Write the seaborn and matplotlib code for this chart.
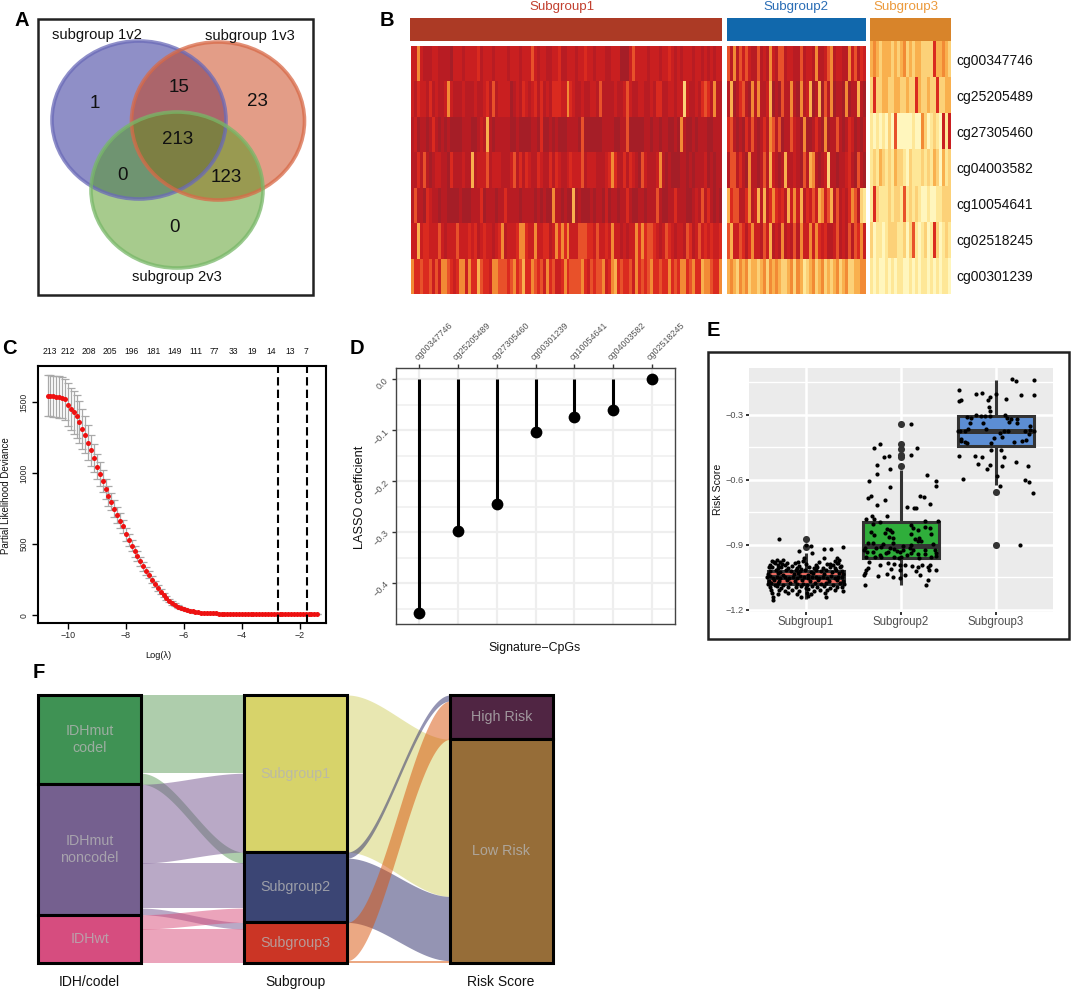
"""
plot.py

Six panel methylation signature figure: venn, heatmap, CV curve, LASSO lollipop,
risk score boxplot and an alluvial of the three groupings.
"""
import numpy as np
import pandas as pd
import matplotlib.pyplot as plt
import seaborn as sns
from matplotlib.patches import Ellipse, Rectangle

WIDTH, HEIGHT = 1072, 991

# ---- panel A
venn_names = ["subgroup 1v2", "subgroup 1v3", "subgroup 2v3"]
venn_counts = [1, 15, 23, 213, 0, 123, 0]

cpg_rows = ["cg00347746", "cg25205489", "cg27305460", "cg04003582",
            "cg10054641", "cg02518245", "cg00301239"]
heat_subgroup1 = [
    "7747888778" "8889777877" "7768777877" "7787778777" "5787788776" "8877787767"
    "7877788777" "9997577778" "7778776787" "8777877878" "7877",
    "7867786878" "8747888788" "8788768587" "7779878678" "7686878666" "7746788788"
    "7785888878" "8757887788" "7866887787" "7278878656" "8488",
    "8798898689" "8989999888" "9987838988" "8889989999" "8896998989" "9988889599"
    "9999888899" "8859999988" "9889889989" "4899898889" "9888",
    "8868589877" "8896888788" "3877758777" "8887586867" "8867886867" "8876777587"
    "7788876468" "8686789578" "8874898999" "8898988879" "8988",
    "8588967889" "8899998999" "8886988898" "8688889888" "8989899488" "9899398999"
    "8988979889" "8868998898" "8858998868" "8899878586" "8989",
    "7737667775" "7877757776" "7687677876" "4877764467" "7477668746" "4647775556"
    "6757767477" "8787746465" "5678756787" "7856875767" "6776",
    "4665665757" "4456764474" "6635667445" "5565465366" "4565746577" "6465555467"
    "5655476436" "5665746565" "4665664656" "4465466344" "5664",
]
heat_subgroup2 = [
    "5848575788" "5878478558" "7788587784" "8875487788" "475867",
    "8398658948" "4887398958" "8489487398" "3958498894" "988389",
    "6589896858" "9868458598" "8578949986" "8949885898" "679898",
    "8558689488" "9858378983" "8878958348" "9872889887" "689589",
    "3655886487" "3838646768" "3747386757" "3475385878" "645821",
    "5377568647" "7857387848" "7858477474" "6768875878" "585647",
    "3432434233" "2342434322" "3424312342" "3423234234" "223344",
]
heat_subgroup3 = [
    "3432333232" "3423233222" "2633432",
    "2622332233" "2232263223" "2262233",
    "1010102050" "0000100420" "1210717",
    "1213212132" "2102111212" "1320312",
    "1621112122" "1512121001" "0011222",
    "2011012221" "1202510120" "1620121",
    "1010010101" "1001010110" "1010110",
]
heat_colors = ["#fff6bd", "#fee797", "#fcd077", "#f9b04e", "#f28a35",
               "#e8512a", "#da2a1f", "#c91f20", "#b81c23", "#a51e27"]

# ---- panel C
log_lambda = [-10.7, -10.6, -10.5, -10.4, -10.3, -10.2, -10.1, -10.0, -9.9, -9.8, -9.7, -9.6,
              -9.5, -9.4, -9.3, -9.2, -9.1, -9.0, -8.9, -8.8, -8.7, -8.6, -8.5, -8.4, -8.3,
              -8.2, -8.1, -8.0, -7.9, -7.8, -7.7, -7.6, -7.5, -7.4, -7.3, -7.2, -7.1, -7.0,
              -6.9, -6.8, -6.7, -6.6, -6.5, -6.4, -6.3, -6.2, -6.1, -6.0, -5.9, -5.8, -5.7,
              -5.6, -5.5, -5.4, -5.3, -5.2, -5.1, -5.0, -4.9, -4.8, -4.7, -4.6, -4.5, -4.4,
              -4.3, -4.2, -4.1, -4.0, -3.9, -3.8, -3.7, -3.6, -3.5, -3.4, -3.3, -3.2, -3.1,
              -3.0, -2.9, -2.8, -2.7, -2.6, -2.5, -2.4, -2.3, -2.2, -2.1, -2.0, -1.9, -1.8,
              -1.7, -1.6, -1.5, -1.4]
deviance = [1545, 1543, 1541, 1538, 1535, 1530, 1520, 1480, 1450, 1428, 1400, 1360,
            1310, 1270, 1215, 1160, 1105, 1045, 995, 945, 887, 840, 800, 750, 705,
            665, 625, 570, 530, 490, 450, 414, 380, 345, 312, 285, 250, 220,
            190, 165, 142, 122, 103, 87, 74, 62, 52, 44, 37, 32, 27,
            23, 20, 18, 16, 15, 14, 13, 13, 12, 12, 12, 12, 12,
            12, 11, 11, 11, 11, 11, 11, 11, 11, 11, 11, 11, 11,
            11, 11, 11, 11, 11, 11, 11, 11, 11, 11, 11, 11, 11,
            11, 11, 11, 11]
deviance_sd = [145, 145, 145, 145, 145, 145, 145, 150, 150, 150, 150, 150,
               140, 130, 120, 110, 100, 90, 85, 80, 72, 68, 62, 58, 55,
               52, 48, 45, 42, 40, 38, 35, 32, 30, 28, 26, 24, 22,
               20, 18, 16, 14, 12, 11, 10, 9, 8, 7, 6, 5, 5,
               4, 4, 3, 3, 3, 2, 2, 2, 1, 1, 1, 1, 1,
               1, 1, 1, 1, 1, 1, 1, 1, 1, 1, 1, 1, 1,
               1, 1, 1, 1, 1, 1, 1, 1, 1, 1, 1, 1, 1,
               1, 1, 1, 1]
nonzero_pos = [-10.63, -10.0, -9.27, -8.54, -7.8, -7.06, -6.32, -5.59, -4.94,
               -4.29, -3.63, -2.99, -2.33, -1.78]
nonzero_counts = [213, 212, 208, 205, 196, 181, 149, 111, 77, 33, 19, 14, 13, 7]
lambda_lines = [-2.76, -1.74]

# ---- panel D
signature_cpgs = ["cg00347746", "cg25205489", "cg27305460", "cg00301239",
                  "cg10054641", "cg04003582", "cg02518245"]
lasso_coef = [-0.459, -0.298, -0.244, -0.104, -0.074, -0.060, 0.0]

# ---- panel E
subgroups = ["Subgroup1", "Subgroup2", "Subgroup3"]
box_colors = ["#ee6a60", "#2fae3b", "#5c8ed4"]
# whisker low, q1, median, q3, whisker high
box_subgroup1 = [-1.15, -1.08, -1.05, -1.02, -0.94]
box_subgroup2 = [-1.087, -0.961, -0.907, -0.795, -0.553]
box_subgroup3 = [-0.625, -0.445, -0.374, -0.306, -0.137]
fliers_x = [0, 0, 1, 1, 1, 1, 1, 1, 2, 2]
fliers_y = [-0.875, -0.91, -0.34, -0.436, -0.456, -0.486, -0.494, -0.534, -0.657, -0.901]

jitter_subgroup1 = [-.28, .19, .26, .39, -.07, .06, .00, .05, -.02, .14, .19, .25, .33, .35,
                    -.36, -.34, -.31, -.27, -.24, -.20, -.08, -.03, .30, .33,
                    -.38, -.33, -.29, -.25, -.22, -.12, -.07, .00, .10, .22, .28, .34, .37,
                    -.39, -.36, -.30, -.26, -.19, -.15, -.10, -.05, .03, .08, .12, .18, .25, .31, .36,
                    -.38, -.32, -.27, -.21, -.16, -.11, -.06, -.01, .05, .11, .16, .21, .27, .32, .38,
                    -.40, -.30, -.24, -.13, -.08, .02, .07, .19, .35, .39,
                    -.41, -.38, -.35, -.31, -.27, -.22, -.18, -.14, -.10, -.06, -.02, .02, .06, .10,
                    .14, .18, .22, .26, .30, .34, .38,
                    -.39, -.34, -.28, -.20, -.12, -.04, .04, .13, .24, .33, .39,
                    -.40, -.37, -.33, -.29, -.24, -.17, -.09, -.03, .01, .09, .16, .21, .28, .36, .40,
                    -.38, -.31, -.26, -.19, -.11, -.05, .00, .06, .12, .19, .25, .33, .38,
                    -.37, -.28, -.22, -.15, -.07, .02, .08, .15, .22, .30, .39,
                    -.36, -.30, -.19, -.10, .01, .05, .20,
                    -.35, -.05, .02, .21, -.35]
risk_subgroup1 = [-.875, -.918, -.918, -.910, -.930, -.940, -.903, -.906, -.960, -.980, -.961, -.987, -.960, -.969,
                  -.975, -.981, -.972, -.978, -.970, -.983, -.979, -.974, -.976, -.983,
                  -.992, -.986, -.996, -.989, -.994, -.985, -.998, -.990, -.995, -.987, -.992, -.984, -.997,
                  -1.005, -1.001, -1.009, -1.003, -1.008, -1.000, -1.006, -1.010, -1.002, -1.007, -1.004,
                  -1.009, -1.003, -1.008, -1.001,
                  -1.021, -1.016, -1.024, -1.018, -1.022, -1.015, -1.023, -1.019, -1.025, -1.017, -1.021,
                  -1.016, -1.024, -1.019, -1.022,
                  -1.036, -1.032, -1.039, -1.034, -1.031, -1.038, -1.033, -1.036, -1.032, -1.037,
                  -1.051, -1.046, -1.054, -1.049, -1.053, -1.047, -1.052, -1.048, -1.055, -1.046, -1.050,
                  -1.053, -1.047, -1.051, -1.054, -1.048, -1.052, -1.046, -1.053, -1.049, -1.051,
                  -1.066, -1.062, -1.069, -1.063, -1.067, -1.061, -1.068, -1.064, -1.066, -1.062, -1.068,
                  -1.081, -1.077, -1.084, -1.079, -1.086, -1.078, -1.083, -1.080, -1.085, -1.077, -1.082,
                  -1.079, -1.084, -1.078, -1.081,
                  -1.096, -1.092, -1.099, -1.094, -1.097, -1.091, -1.098, -1.093, -1.096, -1.092, -1.099,
                  -1.094, -1.097,
                  -1.111, -1.107, -1.114, -1.109, -1.112, -1.106, -1.113, -1.108, -1.111, -1.107, -1.114,
                  -1.124, -1.128, -1.122, -1.127, -1.125, -1.129, -1.123,
                  -1.140, -1.143, -1.138, -1.141, -1.155]

jitter_subgroup2 = [.11, -.22, -.28, .17, .11, -.18, -.13, -.25, -.12, -.25, .27, -.34, .37, .37, -.12,
                    -.32, -.35, -.17, .20, .24, -.25, .31, .06, .14, .16, -.31, -.15, -.37, -.28, -.22,
                    .39, .25, .11, .25, -.29, -.15, -.12, -.10, .13, .18, .31, -.32, -.28, -.17, .32,
                    .11, -.08, -.13, .15, .19, .21, .18, -.30, -.35, -.19, -.08, .11, .02, .34, -.38,
                    -.39, -.36, -.26, -.21, -.12, -.07, -.01, .09, .13, .25, .36, .37, .37, -.29, -.22,
                    -.16, -.14, -.04, .02, .11, .18, .25, -.37, -.27, -.21, -.07, -.02, .00, .06, .19,
                    .32, -.34, -.22, -.14, -.07, -.01, .04, .12, .18, .28, .31, .22, -.35, -.37, -.38,
                    -.39, -.11, -.01, .16, .29, .37, -.24, -.15, -.08, .04, .20, .28, -.38, .26, -.01]
risk_subgroup2 = [-.340, -.434, -.453, -.454, -.485, -.494, -.491, -.533, -.548, -.574, -.579, -.607, -.605,
                  -.627, -.631, -.674, -.684, -.694, -.673, -.681, -.716, -.710, -.724, -.730, -.730, -.765,
                  -.765, -.781, -.781, -.793, -.790, -.790, -.808, -.816, -.805, -.827, -.833, -.839, -.824,
                  -.832, -.824, -.842, -.855, -.845, -.850, -.852, -.867, -.862, -.873, -.870, -.881, -.882,
                  -.893, -.893, -.898, -.893, -.901, -.904, -.896, -.916, -.924, -.932, -.916, -.909, -.913,
                  -.919, -.932, -.916, -.924, -.924, -.924, -.939, -.950, -.935, -.947, -.939, -.935, -.929,
                  -.924, -.939, -.944, -.944, -.955, -.955, -.955, -.955, -.963, -.959, -.947, -.963, -.955,
                  -.978, -.993, -.986, -.990, -.996, -.993, -.998, -1.001, -1.001, -.996, -.993, -1.006,
                  -1.016, -1.029, -1.040, -1.013, -1.016, -1.020, -1.016, -1.016, -1.043, -1.037, -1.049,
                  -1.040, -1.040, -1.063, -1.084, -1.086, -1.055]

jitter_subgroup3 = [.17, .21, .40, -.39, -.15, -.21, .00, .26, .40, -.06, -.08, .10, -.37, -.39, -.07, -.06,
                    -.31, -.26, -.21, -.16, -.12, -.06, .09, .12, .16, .22, .14, .22, -.27, -.14, .36,
                    -.40, -.38, -.33, -.29, -.11, .04, .08, .13, .31, .35, .36, .40, -.37, -.37, -.33,
                    -.31, -.02, .06, -.05, .19, .27, .32, -.05, .05, -.39, -.22, -.15, .08, -.19, .21,
                    -.06, -.09, .06, .34, -.35, .01, .30, .35, .04, .39, .25]
risk_subgroup3 = [-.135, -.144, -.138, -.184, -.198, -.204, -.204, -.210, -.210, -.217, -.229, -.226, -.230,
                  -.237, -.264, -.284, -.309, -.312, -.300, -.304, -.304, -.303, -.300, -.312, -.321, -.317,
                  -.332, -.337, -.337, -.335, -.352, -.374, -.374, -.375, -.365, -.363, -.383, -.375, -.374,
                  -.374, -.386, -.371, -.374, -.409, -.422, -.425, -.432, -.408, -.403, -.428, -.423, -.420,
                  -.415, -.460, -.460, -.489, -.489, -.494, -.495, -.525, -.517, -.531, -.551, -.536, -.534,
                  -.596, -.583, -.603, -.608, -.628, -.659, -.900]

# ---- panel F, flows as (source, target, size)
idh_nodes = ["IDHmut\ncodel", "IDHmut\nnoncodel", "IDHwt"]
subgroup_nodes = ["Subgroup1", "Subgroup2", "Subgroup3"]
risk_nodes = ["High Risk", "Low Risk"]
idh_flows = [(0, 0, 235), (0, 1, 33), (1, 0, 237), (1, 1, 135), (1, 2, 20), (2, 1, 43), (2, 2, 102)]
risk_flows = [(0, 1, 472), (1, 0, 18), (1, 1, 193), (2, 0, 115), (2, 1, 7)]
idh_colors = ["#3f9254", "#75608f", "#d64d7f"]
subgroup_colors = ["#d7d36a", "#3b4574", "#cb3525"]
risk_colors = ["#502543", "#966d38"]
flow_idh_colors = ["#5f9c5a", "#75558f", "#d94a78"]
flow_subgroup_colors = ["#d2d064", "#2a2a68", "#d85208"]

sns.set_theme(style="white")
plt.rcParams["font.family"] = ["Liberation Sans", "DejaVu Sans"]

fig = plt.figure(figsize=(WIDTH / 100, HEIGHT / 100), dpi=100)


def px_axes(left, top, right, bottom):
    """Axes placed by pixel edges of the final image."""
    return fig.add_axes([left / WIDTH, 1 - bottom / HEIGHT,
                         (right - left) / WIDTH, (bottom - top) / HEIGHT])


def digits_to_frame(rows):
    return pd.DataFrame([[int(ch) for ch in row] for row in rows])


# full page layer for annotations drawn in image pixels
page = fig.add_axes([0, 0, 1, 1], zorder=10)
page.set_xlim(0, WIDTH)
page.set_ylim(HEIGHT, 0)
page.axis("off")
page.patch.set_alpha(0)

for letter, lx, ly in zip("ABCDEF", [22, 387, 9, 357, 713, 39], [20, 20, 348, 348, 330, 672]):
    page.text(lx, ly, letter, fontsize=14.5, fontweight="bold", color="black", ha="center", va="center")

# A: venn
page.add_patch(Rectangle((38, 19), 275, 276, fill=False, edgecolor="#222222", lw=1.8))
venn_shapes = [((139, 120), 174, 158, "#212191", "#6a6ab8"),
               ((218, 121), 173, 158, "#c83c10", "#d86a48"),
               ((177, 190), 172, 156, "#51991d", "#78b868")]
for center, w, h, face, edge in venn_shapes:
    page.add_patch(Ellipse(center, w, h, facecolor=face, edgecolor="none", alpha=0.5))
for center, w, h, face, edge in venn_shapes:
    page.add_patch(Ellipse(center, w, h, fill=False, edgecolor=edge, lw=2.6, alpha=0.75))
for name, nx, ny in zip(venn_names, [97, 250, 177], [35, 36, 277]):
    page.text(nx, ny, name, fontsize=10.6, color="#111111", ha="center", va="center")
venn_x = [95, 179, 257, 178, 123, 226, 174]
venn_y = [103, 88, 101, 140, 176, 178, 228]
for count, nx, ny in zip(venn_counts, venn_x, venn_y):
    page.text(nx, ny, str(count), fontsize=13.5, color="#111111", ha="center", va="center")

# B: heatmap split by subgroup
heat_cmap = sns.blend_palette(heat_colors, as_cmap=True)
heat_panels = [(heat_subgroup1, 411, 722, 46), (heat_subgroup2, 727, 866, 46), (heat_subgroup3, 870, 951, 41)]
for rows, left, right, top in heat_panels:
    ax = px_axes(left, top, right, 294)
    sns.heatmap(digits_to_frame(rows), cmap=heat_cmap, vmin=0, vmax=9, cbar=False,
                xticklabels=False, yticklabels=False, ax=ax)
    ax.set_xlabel("")
    ax.set_ylabel("")

bar_spec = [(410, 722, "#ac3a25", "#c2402f", 562), (727, 866, "#1168ac", "#2a6db5", 796), (870, 951, "#d8842a", "#ec9a3c", 906)]
for (left, right, bar_col, txt_col, tx), name in zip(bar_spec, subgroups):
    page.add_patch(Rectangle((left, 18), right - left, 23, facecolor=bar_col, edgecolor="none"))
    page.text(tx, 7, name, fontsize=9.6, color=txt_col, ha="center", va="center")
for i, name in enumerate(cpg_rows):
    page.text(956, 61 + 36 * i, name, fontsize=10, color="#111111", ha="left", va="center")

# C: cross validation curve
ax = px_axes(38, 366, 326, 623)
ax.errorbar(log_lambda, deviance, yerr=deviance_sd, fmt="none", ecolor="#a9a9a9", elinewidth=0.9,
            capsize=3, capthick=0.9, zorder=1)
sns.scatterplot(x=log_lambda, y=deviance, color="#ee1111", s=13, linewidth=0, zorder=3, ax=ax)
for pos in lambda_lines:
    ax.axvline(pos, color="black", lw=1.5, ls=(0, (4, 2)), zorder=4)
ax.set_xlim(-11.03, -1.1)
ax.set_ylim(-54, 1753)
ax.set_xticks([-10, -8, -6, -4, -2])
ax.set_yticks([0, 500, 1000, 1500])
ax.tick_params(axis="x", length=4, width=1, color="black", labelsize=6.4, pad=2, bottom=True)
ax.tick_params(axis="y", length=4, width=1, color="black", labelsize=6.2, pad=3, left=True)
for tick in ax.get_yticklabels():
    tick.set_rotation(90)
    tick.set_va("center")
for spine in ax.spines.values():
    spine.set_color("black")
    spine.set_linewidth(1.5)
page.text(6, 496, "Partial Likelihood Deviance", fontsize=7, rotation=90, ha="center", va="center", color="#111111")
page.text(158, 655, "Log(λ)", fontsize=6.6, ha="center", va="center", color="#111111")
for pos, count in zip(nonzero_pos, nonzero_counts):
    ax.text(pos, 1.055, str(count), fontsize=6.2, ha="center", va="center", color="#111111",
            transform=ax.get_xaxis_transform(), clip_on=False)

# D: lollipops of the LASSO coefficients
ax = px_axes(396, 368, 675, 624)
sns.scatterplot(x=signature_cpgs, y=lasso_coef, color="black", s=72, linewidth=0, zorder=4, ax=ax)
ax.vlines(signature_cpgs, lasso_coef, 0, color="black", lw=2.2, zorder=3)
ax.set_xlim(-0.6, 6.6)
ax.set_ylim(-0.480, 0.0223)
ax.set_yticks([0, -0.1, -0.2, -0.3, -0.4])
ax.set_yticks([-0.05, -0.15, -0.25, -0.35, -0.45], minor=True)
ax.set_yticklabels(["0.0", "−0.1", "−0.2", "−0.3", "−0.4"])
ax.grid(True, which="major", color="#eeeeee", lw=1.6)
ax.grid(True, which="minor", axis="y", color="#f0f0f0", lw=1.2)
ax.set_axisbelow(True)
ax.xaxis.tick_top()
ax.tick_params(axis="x", which="major", top=True, length=3, width=1, color="#333333", labelsize=6.4,
               labelcolor="#555555", pad=1)
ax.tick_params(axis="y", which="major", left=True, length=3, width=1, color="#333333", labelsize=6.6,
               labelcolor="#555555", pad=1)
ax.tick_params(axis="y", which="minor", length=0)
for tick in ax.get_xticklabels():
    tick.set_rotation(45)
    tick.set_ha("left")
    tick.set_rotation_mode("anchor")
for tick in ax.get_yticklabels():
    tick.set_rotation(45)
for spine in ax.spines.values():
    spine.set_color("#444444")
    spine.set_linewidth(1)
page.text(360, 497, "LASSO coefficient", fontsize=9.2, rotation=90, ha="center", va="center", color="#111111")
page.text(535, 648, "Signature−CpGs", fontsize=8.9, ha="center", va="center", color="#111111")

# E: risk score by subgroup
page.add_patch(Rectangle((708, 352), 361, 287, fill=False, edgecolor="#222222", lw=1.8))
ax = px_axes(749, 368, 1053, 612)
ax.set_facecolor("#ebebeb")
box_df = pd.DataFrame({
    "group": np.repeat(subgroups, 5),
    "risk": box_subgroup1 + box_subgroup2 + box_subgroup3,
})
sns.boxplot(data=box_df, x="group", y="risk", hue="group", order=subgroups, palette=box_colors,
            width=0.8, gap=0, whis=(0, 100), showcaps=False, fliersize=0, linewidth=2.2, linecolor="#333333",
            saturation=1, medianprops={"linewidth": 3.6}, dodge=False, legend=False, zorder=3, ax=ax)
sns.scatterplot(x=fliers_x, y=fliers_y, color="#333333", s=26, linewidth=0, zorder=4, ax=ax)
jitter_sets = [jitter_subgroup1, jitter_subgroup2, jitter_subgroup3]
risk_sets = [risk_subgroup1, risk_subgroup2, risk_subgroup3]
for i, (jit, risk) in enumerate(zip(jitter_sets, risk_sets)):
    sns.scatterplot(x=np.array(jit) + i, y=risk, color="black", s=9, linewidth=0, zorder=5, ax=ax)
ax.set_xlim(-0.6, 2.6)
ax.set_ylim(-1.211, -0.083)
ax.set_yticks([-0.3, -0.6, -0.9, -1.2])
ax.set_yticklabels(["−0.3", "−0.6", "−0.9", "−1.2"])
ax.set_yticks([-0.15, -0.45, -0.75, -1.05], minor=True)
ax.grid(True, which="major", color="white", lw=1.8)
ax.grid(True, which="minor", axis="y", color="white", lw=1)
ax.set_axisbelow(True)
ax.tick_params(axis="both", which="major", length=2, width=1.4, color="#333333", labelcolor="#4d4d4d", pad=2,
               bottom=True, left=True)
ax.tick_params(axis="x", labelsize=8.3, pad=1)
ax.tick_params(axis="y", labelsize=6.6)
ax.tick_params(axis="y", which="minor", length=0)
ax.set_xlabel("")
ax.set_ylabel("")
for spine in ax.spines.values():
    spine.set_visible(False)
page.text(718, 489, "Risk Score", fontsize=7.6, rotation=90, ha="center", va="center", color="#111111")


# F: alluvial
def stack_flows(flows, n_left, n_right):
    """Return top offsets of every flow on its left and right column."""
    left_sizes = [sum(f[2] for f in flows if f[0] == k) for k in range(n_left)]
    right_sizes = [sum(f[2] for f in flows if f[1] == k) for k in range(n_right)]
    left_next = dict(enumerate(np.cumsum([0] + left_sizes[:-1])))
    right_next = dict(enumerate(np.cumsum([0] + right_sizes[:-1])))
    placed = []
    for src, dst, size in flows:
        placed.append((src, left_next[src], right_next[dst], size))
        left_next[src] += size
        right_next[dst] += size
    return placed, left_sizes, right_sizes


def draw_flows(ax, flows, n_left, n_right, x_left, x_right, colors):
    placed, left_sizes, right_sizes = stack_flows(flows, n_left, n_right)
    t = np.linspace(0, 1, 80)
    ease = t * t * (3 - 2 * t)
    xs = x_left + (x_right - x_left) * t
    for src, y_left, y_right, size in placed:
        top = y_left + (y_right - y_left) * ease
        ax.fill_between(xs, top, top + size, color=colors[src], alpha=0.5, linewidth=0, zorder=1)
    return left_sizes, right_sizes


def draw_nodes(ax, sizes, names, x_center, colors):
    top = 0
    for size, name, color in zip(sizes, names, colors):
        ax.add_patch(Rectangle((x_center - 0.25, top), 0.5, size, facecolor=color, edgecolor="black",
                               lw=2.2, zorder=3, clip_on=False))
        ax.text(x_center, top + size / 2, name, fontsize=10.3, color="#b4b4b4", alpha=0.8, ha="center",
                va="center", linespacing=1.25, zorder=4)
        top += size


ax = px_axes(38, 695, 553, 963)
ax.axis("off")
idh_sizes, subgroup_sizes = draw_flows(ax, idh_flows, 3, 3, 0.25, 0.75, flow_idh_colors)
_, risk_sizes = draw_flows(ax, risk_flows, 3, 2, 1.25, 1.75, flow_subgroup_colors)
draw_nodes(ax, idh_sizes, idh_nodes, 0, idh_colors)
draw_nodes(ax, subgroup_sizes, subgroup_nodes, 1, subgroup_colors)
draw_nodes(ax, risk_sizes, risk_nodes, 2, risk_colors)
ax.set_xlim(-0.25, 2.25)
ax.set_ylim(sum(subgroup_sizes), 0)
for name, lx in zip(["IDH/codel", "Subgroup", "Risk Score"], [89.5, 295, 501]):
    page.text(lx, 982, name, fontsize=10, color="#111111", ha="center", va="center")

fig.savefig("out.png", dpi=100)
